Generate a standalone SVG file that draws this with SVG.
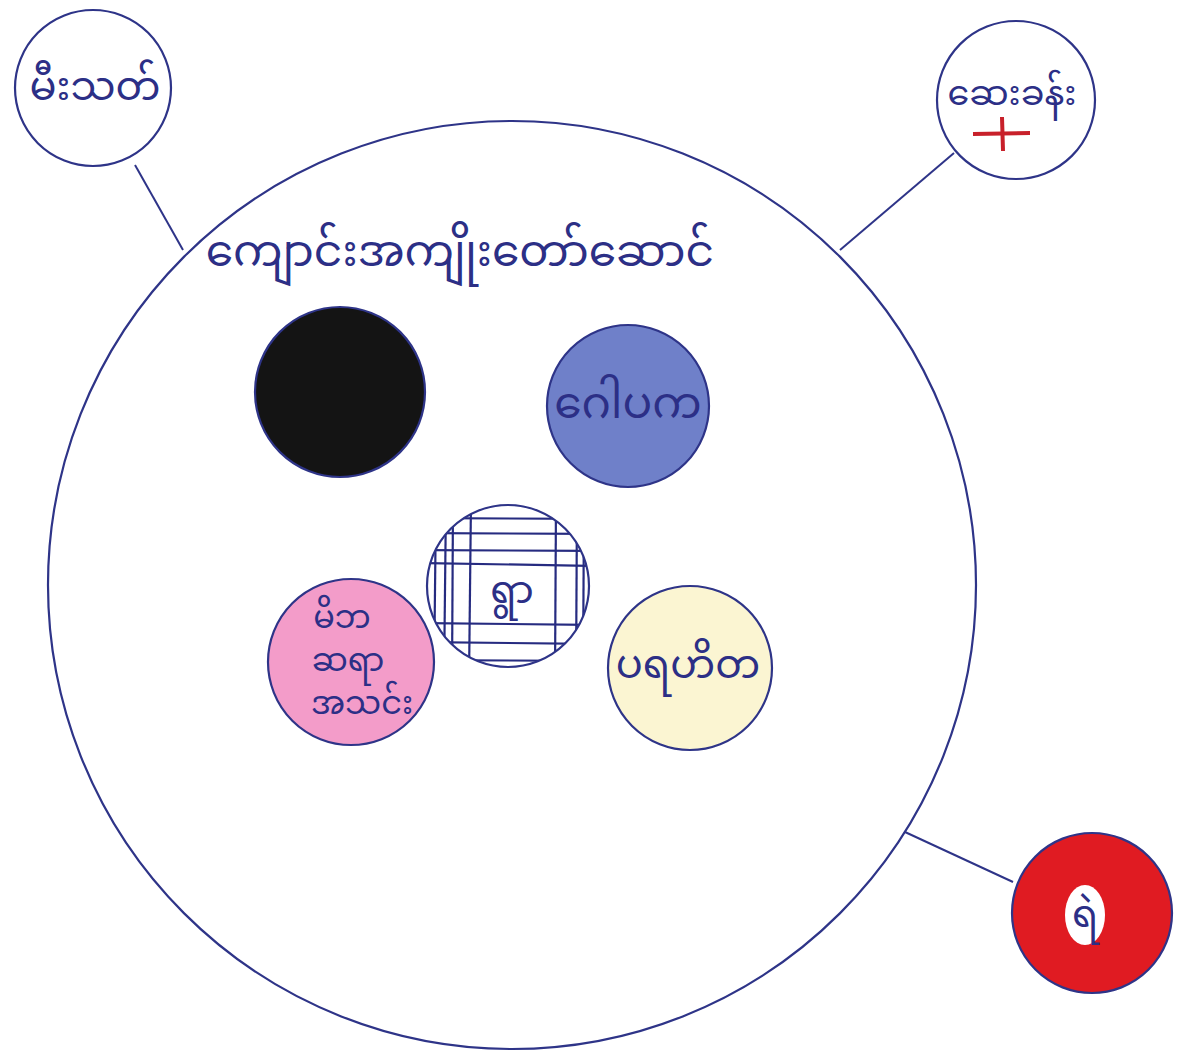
<svg xmlns="http://www.w3.org/2000/svg" width="1184" height="1051" viewBox="0 0 1184 1051">
<style>
.ln{stroke:#2e3488;stroke-width:2;fill:none}
.c{stroke:#2e3488;stroke-width:2.2}
.t{font-family:"Noto Sans Myanmar","Noto Sans","DejaVu Sans",sans-serif;fill:#2c2f86;text-anchor:middle}
.g{stroke:#262b80;stroke-width:2.2}
</style>
<rect width="1184" height="1051" fill="#ffffff"/>
<g id="connectors">
<line class="ln" x1="135" y1="165" x2="183" y2="250"/>
<line class="ln" x1="954" y1="153" x2="840" y2="250"/>
<line class="ln" x1="905" y1="832" x2="1013" y2="882"/>
</g>
<g id="main">
<circle class="c" cx="512" cy="585" r="464" fill="none"/>
<text class="t" x="460" y="266" font-size="44">ကျောင်းအကျိုးတော်ဆောင်</text>
</g>
<g id="fire">
<circle class="c" cx="93" cy="88" r="78" fill="#ffffff"/>
<text class="t" x="95" y="100" font-size="40">မီးသတ်</text>
</g>
<g id="clinic">
<circle class="c" cx="1016" cy="100" r="79" fill="#ffffff"/>
<text class="t" x="1012" y="105" font-size="35">ဆေးခန်း</text>
<line x1="973" y1="134" x2="1030" y2="133" stroke="#c8202a" stroke-width="4"/>
<line x1="1002" y1="117" x2="1003" y2="151" stroke="#c8202a" stroke-width="4"/>
</g>
<g id="police">
<circle class="c" cx="1092" cy="913" r="80" fill="#e01b22"/>
<ellipse cx="1085" cy="915" rx="20" ry="30" fill="#ffffff"/>
<text class="t" x="1085" y="927" font-size="38">ရဲ</text>
</g>
<g id="black">
<circle class="c" cx="340" cy="392" r="85" fill="#141414"/>
</g>
<g id="trustee">
<circle class="c" cx="628" cy="406" r="81" fill="#6f80c9"/>
<text class="t" x="628" y="418" font-size="44">ဂေါပက</text>
</g>
<g id="village">
<circle cx="508" cy="586" r="81" fill="#ffffff"/>
<clipPath id="cp"><circle cx="508" cy="586" r="81"/></clipPath>
<g clip-path="url(#cp)">
<line class="g" x1="420" y1="518" x2="600" y2="519"/>
<line class="g" x1="420" y1="533" x2="600" y2="534"/>
<line class="g" x1="420" y1="550" x2="600" y2="551"/>
<line class="g" x1="420" y1="563" x2="600" y2="566"/>
<line class="g" x1="420" y1="623" x2="600" y2="625"/>
<line class="g" x1="420" y1="642" x2="600" y2="644"/>
<line class="g" x1="420" y1="660" x2="600" y2="661"/>
<line class="g" x1="436" y1="500" x2="434" y2="680"/>
<line class="g" x1="446" y1="500" x2="444" y2="680"/>
<line class="g" x1="453" y1="500" x2="452" y2="680"/>
<line class="g" x1="471" y1="500" x2="469" y2="680"/>
<line class="g" x1="556" y1="500" x2="555" y2="680"/>
<line class="g" x1="577" y1="500" x2="576" y2="680"/>
<line class="g" x1="584" y1="500" x2="583" y2="680"/>
</g>
<circle class="c" cx="508" cy="586" r="81" fill="none"/>
<text class="t" x="512" y="603" font-size="38">ရွာ</text>
</g>
<g id="pta">
<circle class="c" cx="351" cy="662" r="83" fill="#f39cc9"/>
<text class="t" font-size="32"><tspan x="342" y="628">မိဘ</tspan><tspan x="348" y="671">ဆရာ</tspan><tspan x="362" y="714">အသင်း</tspan></text>
</g>
<g id="charity">
<circle class="c" cx="690" cy="668" r="82" fill="#fbf5d2"/>
<text class="t" x="688" y="678" font-size="40">ပရဟိတ</text>
</g>
</svg>
